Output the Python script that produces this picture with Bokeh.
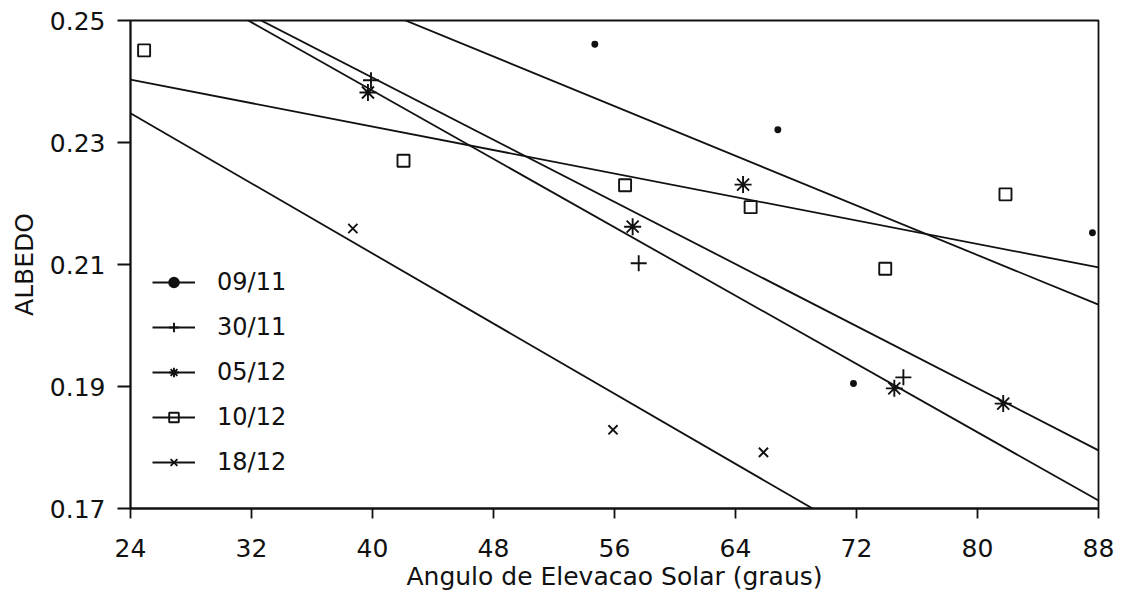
import numpy as np
from bokeh.plotting import figure
from bokeh.models import Range1d, FixedTicker, Legend, LegendItem, PrintfTickFormatter
from bokeh.embed import file_html
from bokeh.resources import INLINE

# Solar elevation angle (degrees) and measured albedo, one pair of lists per day
elev_0911 = [54.7, 66.8, 71.8, 87.6]
albedo_0911 = [0.2461, 0.2321, 0.1905, 0.2152]

elev_3011 = [39.9, 57.6, 75.1]
albedo_3011 = [0.2402, 0.2102, 0.1915]

elev_0512 = [39.7, 57.2, 64.5, 74.5, 81.7]
albedo_0512 = [0.2382, 0.2162, 0.2231, 0.1897, 0.1872]

elev_1012 = [24.9, 42.05, 56.7, 65.0, 73.9, 81.85]
albedo_1012 = [0.2451, 0.2270, 0.2230, 0.2194, 0.2093, 0.2215]

elev_1812 = [38.7, 55.9, 65.85]
albedo_1812 = [0.2159, 0.1829, 0.1792]

# Linear fits per day: albedo at 24 degrees and slope per degree
fit_at_24 = [0.2685, 0.2609, 0.2610, 0.2403, 0.2348]
fit_slope = [-0.001017, -0.00140, -0.001273, -0.000481, -0.001437]

days = ["09/11", "30/11", "05/12", "10/12", "18/12"]
x_ticks = [24, 32, 40, 48, 56, 64, 72, 80, 88]
y_ticks = [0.17, 0.19, 0.21, 0.23, 0.25]

series = [
    (elev_0911, albedo_0911, "circle", 5, True),
    (elev_3011, albedo_3011, "cross", 16, False),
    (elev_0512, albedo_0512, "asterisk", 17, False),
    (elev_1012, albedo_1012, "square", 12, False),
    (elev_1812, albedo_1812, "x", 13, False),
]

FONT = "DejaVu Sans"
INK = "#111111"

p = figure(width=1126, height=600, output_backend="svg", toolbar_location=None,
           x_range=Range1d(24, 88), y_range=Range1d(0.17, 0.25),
           min_border_left=130, min_border_right=28, min_border_top=20,
           min_border_bottom=92, background_fill_color="white",
           border_fill_color="white",
           x_axis_label="Angulo de Elevacao Solar (graus)", y_axis_label="ALBEDO")

p.xgrid.grid_line_color = None
p.ygrid.grid_line_color = None
p.outline_line_color = INK
p.outline_line_width = 1.8

p.xaxis.ticker = FixedTicker(ticks=x_ticks)
p.yaxis.ticker = FixedTicker(ticks=y_ticks)
p.yaxis.formatter = PrintfTickFormatter(format="%.2f")
for ax in (p.xaxis[0], p.yaxis[0]):
    ax.axis_line_color = INK
    ax.axis_line_width = 1.8
    ax.major_tick_line_color = INK
    ax.major_tick_line_width = 1.8
    ax.minor_tick_line_color = None
    ax.major_tick_in = 0
    ax.major_label_text_font = FONT
    ax.major_label_text_font_size = "25px"
    ax.major_label_text_color = INK
    ax.axis_label_text_font = FONT
    ax.axis_label_text_font_style = "normal"
    ax.axis_label_text_font_size = "25px"
    ax.axis_label_text_color = INK
p.xaxis.major_tick_out = 10
p.yaxis.major_tick_out = 13
p.xaxis.major_label_standoff = 20
p.yaxis.major_label_standoff = 12
p.xaxis.axis_label_standoff = 2
p.yaxis.axis_label_standoff = 8

x_line = np.array([24.0, 88.0])
items = []
for day, (xs, ys, marker, size, filled), y24, slope in zip(days, series, fit_at_24, fit_slope):
    fit_y = y24 + slope * (x_line - 24.0)
    lr = p.line(x_line, fit_y, line_color=INK, line_width=1.8)
    sr = p.scatter(xs, ys, marker=marker, size=size, line_color=INK,
                   line_width=1.9, fill_color=INK if filled else None)
    items.append(LegendItem(label=day, renderers=[lr, sr]))

legend = Legend(items=items, location=(22, 32), orientation="vertical",
                border_line_color=None, background_fill_alpha=0,
                label_text_font=FONT, label_text_font_size="24px",
                label_text_color=INK, glyph_width=43, glyph_height=24,
                label_height=24, spacing=17, label_standoff=22,
                padding=0, margin=0)
p.add_layout(legend)

open("out.html", "w").write(file_html(p, INLINE))
